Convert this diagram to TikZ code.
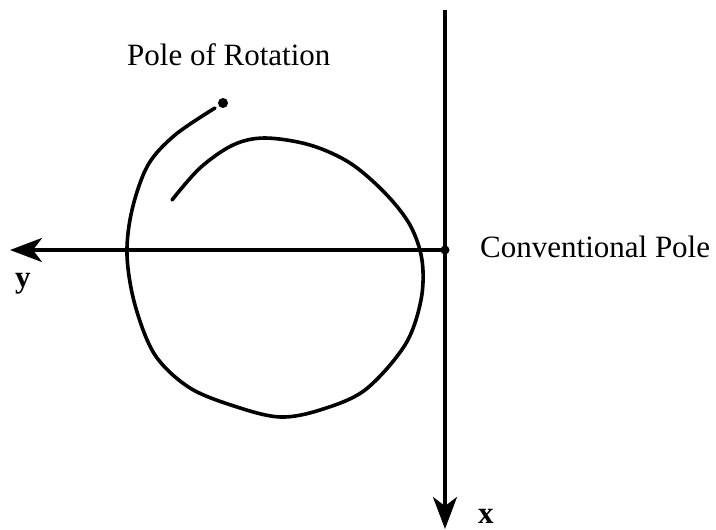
\documentclass[tikz,border=0pt]{standalone}
\usepackage{fontspec}
\setmainfont{Liberation Serif}
\usetikzlibrary{arrows.meta}
\begin{document}
\begin{tikzpicture}[x=1pt,y=-1pt,
  axis/.style={line width=3.4pt,-{Stealth[length=32pt,width=24pt,inset=9pt]}},
  curve/.style={line width=3.6pt,line cap=round,line join=round},
  lbl/.style={inner sep=0pt,font=\fontsize{31}{36}\selectfont},
  axlbl/.style={inner sep=0pt,font=\fontsize{31}{36}\selectfont\bfseries}]
\useasboundingbox (0,0) rectangle (716,530);
\coordinate (top) at (445,10);
\coordinate (o) at (445,250);
\coordinate (xend) at (445,529);
\coordinate (yend) at (10,250);
\draw[axis] (o) -- (yend);
\draw[axis] (top) -- (xend);
\fill (o) circle (4.5pt);
\draw[curve] plot[smooth,tension=0.55] coordinates {
 (172,200) (200,168) (233,145) (265,138) (310,145) (350,163) (385,193)
 (410,225) (422,260) (421,300) (405,345) (365,390) (320,410) (280,417)
 (237,407) (190,388) (155,355) (135,305) (127,255) (132,210) (148,165)
 (175,135) (215,108)};
\fill (223,103) circle (5pt);
\node[lbl,anchor=base west] (por) at (127,65) {Pole of Rotation};
\node[lbl,anchor=base west] (cp) at (480,257) {Conventional Pole};
\node[axlbl,anchor=base west] (ylbl) at (15,287) {y};
\node[axlbl,anchor=base west] (xlbl) at (478,523) {x};
\end{tikzpicture}
\end{document}
